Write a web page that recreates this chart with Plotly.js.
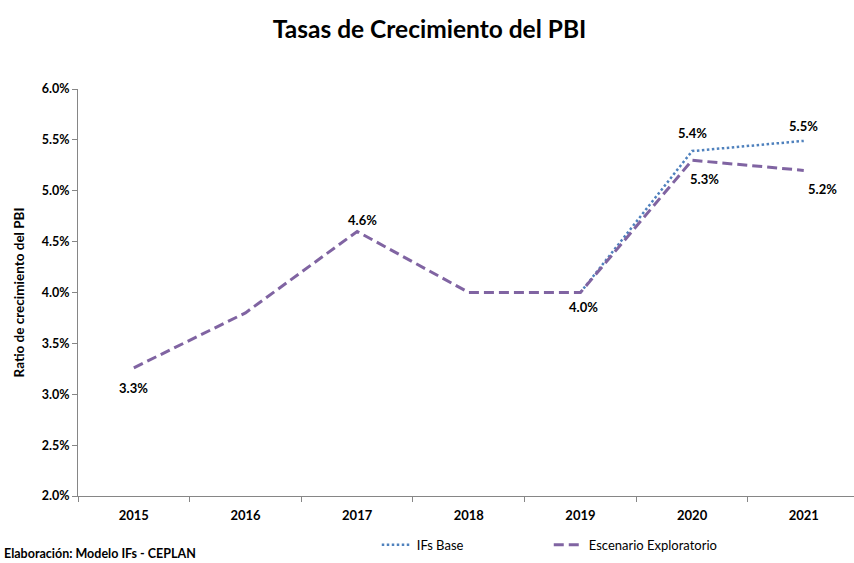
<!DOCTYPE html>
<html>
<head>
<meta charset="utf-8">
<script src="https://cdn.plot.ly/plotly-3.0.1.min.js"></script>
<style>html,body{margin:0;padding:0;background:#fff;}#chart{width:854px;height:563px;}</style>
</head>
<body>
<div id="chart"></div>
<script>
const years = ["2015", "2016", "2017", "2018", "2019", "2020", "2021"];
const ifsBase = [null, null, null, null, 4.00, 5.39, 5.49];
const escenario = [3.26, 3.80, 4.60, 4.00, 4.00, 5.30, 5.20];
const baseLabelShown = [false, false, false, false, false, true, true];
const escLabelShown = [true, false, true, false, true, true, true];
// label offsets in pixels (x, y) relative to the point
const baseLabelShift = [[0,0],[0,0],[0,0],[0,0],[0,0],[0,18],[0,15]];
const escLabelShift = [[0,-20],[0,0],[5,11],[0,0],[3,-14],[12,-19],[19,-19]];

const FONT = "Lato, 'Open Sans', sans-serif";

const traces = [
  {
    x: years, y: ifsBase, type: "scatter", mode: "lines",
    name: "IFs Base",
    line: {color: "#4F81BD", width: 2.5, dash: "2.5px,2.5px"},
    hoverinfo: "skip"
  },
  {
    x: years, y: escenario, type: "scatter", mode: "lines",
    name: "Escenario Exploratorio",
    line: {color: "#8064A2", width: 3, dash: "10px,5px"},
    hoverinfo: "skip"
  }
];

const labels = [];
function addLabels(vals, shown, shift) {
  vals.forEach((v, i) => {
    if (!shown[i] || v === null) return;
    labels.push({
      x: i, y: v, xref: "x", yref: "y",
      text: "<b>" + v.toFixed(1) + "%</b>", showarrow: false,
      xanchor: "center", yanchor: "middle",
      xshift: shift[i][0], yshift: shift[i][1],
      font: {family: FONT, size: 13, color: "#000"}
    });
  });
}
addLabels(ifsBase, baseLabelShown, baseLabelShift);
addLabels(escenario, escLabelShown, escLabelShift);

labels.push({text: "<b>Elaboración: Modelo IFs - CEPLAN</b>", xref: "paper", yref: "paper", x: -0.098, y: -0.142, xanchor: "left", yanchor: "middle", showarrow: false, font: {family: FONT, size: 12.5, color: "#000"}});

const layout = {
  width: 854, height: 563,
  margin: {l: 78, r: 0, t: 89, b: 67},
  paper_bgcolor: "#fff", plot_bgcolor: "#fff",
  font: {family: FONT, color: "#000"},
  title: {text: "<b>Tasas de Crecimiento del PBI</b>", font: {family: FONT, size: 24.5, color: "#000"}, x: 0.503, xanchor: "center", y: 0.948, yanchor: "middle"},
  xaxis: {
    type: "category", range: [-0.5, 6.45],
    showgrid: false, zeroline: false, showline: true, linecolor: "#868686", linewidth: 1,
    ticks: "outside", ticklen: 5, tickcolor: "#868686", tickson: "boundaries",
    ticklabelstandoff: 7,
    tickfont: {family: FONT, size: 13, color: "#000", weight: "bold"}
  },
  yaxis: {
    range: [2, 6], dtick: 0.5, tick0: 2, tickformat: ".1f", ticksuffix: "%",
    showgrid: false, zeroline: false, showline: true, linecolor: "#868686", linewidth: 1,
    ticks: "outside", ticklen: 5, tickcolor: "#868686",
    tickfont: {family: FONT, size: 12.5, color: "#000", weight: "bold"},
    title: {text: "<b>Ratio de crecimiento del PBI</b>", font: {family: FONT, size: 13.5, color: "#000"}, standoff: 14}
  },
  showlegend: true,
  legend: {
    orientation: "h", traceorder: "normal",
    x: 0.385, xanchor: "left", y: -0.12, yanchor: "middle",
    font: {family: FONT, size: 13, color: "#000"},
    entrywidth: 127, entrywidthmode: "pixels", bgcolor: "rgba(0,0,0,0)"
  },
  annotations: labels
};

Plotly.newPlot("chart", traces, layout, {displayModeBar: false, staticPlot: true});
</script>
</body>
</html>
